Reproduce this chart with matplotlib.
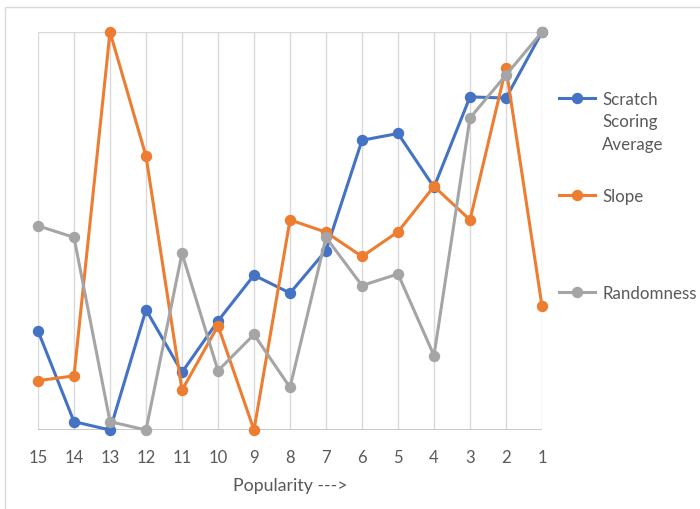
import matplotlib
matplotlib.use("Agg")
import matplotlib.pyplot as plt
from matplotlib.lines import Line2D
from matplotlib.patches import Rectangle

categories = ["15", "14", "13", "12", "11", "10", "9", "8", "7", "6", "5", "4", "3", "2", "1"]
scratch = [0.249, 0.021, 0.0, 0.302, 0.145, 0.274, 0.389, 0.344, 0.451, 0.728, 0.745, 0.610, 0.837, 0.834, 1.0]
slope = [0.124, 0.136, 1.0, 0.688, 0.100, 0.262, 0.0, 0.528, 0.497, 0.436, 0.498, 0.612, 0.528, 0.910, 0.311]
randomness = [0.513, 0.484, 0.021, 0.0, 0.444, 0.149, 0.240, 0.107, 0.484, 0.363, 0.392, 0.187, 0.784, 0.892, 1.0]
series_names = ["Scratch\nScoring\nAverage", "Slope", "Randomness"]
colors = ["#4472C4", "#ED7D31", "#A5A5A5"]

W, H = 700, 510
fig = plt.figure(figsize=(7, 5.1), dpi=100)
fig.patch.set_facecolor("white")

# outer chart border
fig.patches.append(Rectangle((5 / W, -0.1), 1.2, (H - 8) / H + 0.1, transform=fig.transFigure,
                             fill=False, edgecolor="#D9D9D9", linewidth=1.0))

ax = fig.add_axes([38 / W, 1 - 431 / H, 504 / W, 398 / H])
x = list(range(len(categories)))

for i in x:
    ax.axvline(i, color="#D9D9D9", lw=1.0, zorder=0)
ax.axhline(1.0, color="#D9D9D9", lw=1.0, zorder=0)
ax.axhline(0.0, color="#BFBFBF", lw=1.2, zorder=1)

for data, c, z in zip([scratch, slope, randomness], colors, [3, 4, 5]):
    ax.plot(x, data, color=c, lw=2.2, marker="o", markersize=7.2, zorder=z, clip_on=False)

ax.set_xlim(0, len(categories) - 1)
ax.set_ylim(0, 1)
for s in ax.spines.values():
    s.set_visible(False)
ax.set_yticks([])
ax.set_xticks(x)
ax.set_xticklabels(categories, fontsize=12, color="#595959", family="Lato")
ax.tick_params(axis="x", length=0, pad=14)
ax.set_xlabel("Popularity --->", fontsize=12.8, color="#595959", family="Lato", labelpad=8)

# legend drawn manually
leg_y = [99, 196, 293]
for name, c, yy in zip(series_names, colors, leg_y):
    yf = 1 - yy / H
    fig.lines.append(Line2D([559 / W, 595 / W], [yf, yf], transform=fig.transFigure,
                            color=c, lw=2.2, marker=None))
    fig.lines.append(Line2D([577 / W], [yf], transform=fig.transFigure,
                            color=c, marker="o", markersize=7.2))
    fig.text(602 / W, yf + 7 / H, name, fontsize=12.2, color="#595959", family="Lato",
             va="top", ha="left", linespacing=1.5)

fig.savefig("out.png", dpi=100, facecolor="white")
